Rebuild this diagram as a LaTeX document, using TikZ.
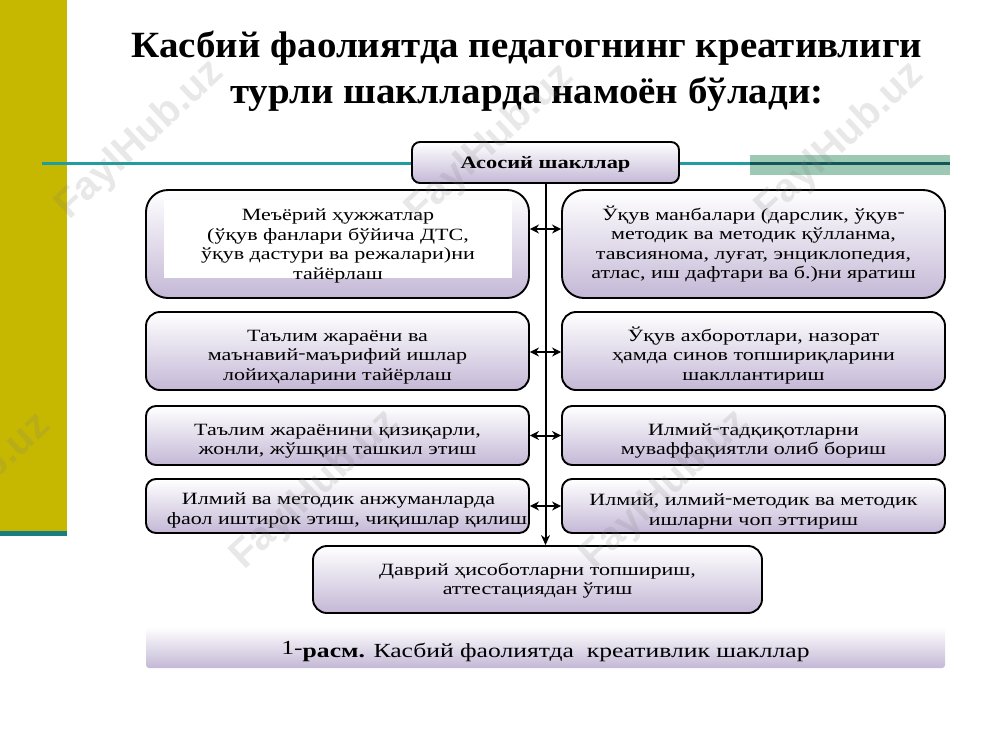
\documentclass[tikz,border=0pt]{standalone}
\usepackage{fontspec}
\setmainfont[FakeStretch=1.28]{Liberation Serif}
\newfontfamily\titlefont[FakeStretch=1.053]{Liberation Serif}
\newfontfamily\markfont{Liberation Sans}
\usetikzlibrary{arrows.meta}
\definecolor{lav}{HTML}{C4B8D6}
\definecolor{lavmid}{HTML}{F1EDF4}
\definecolor{olive}{HTML}{C6B800}
\definecolor{teal1}{HTML}{1F9EA0}
\definecolor{band}{HTML}{9CC8B4}
\tikzset{
  x=1pt,y=-1pt,
  panel/.style={draw=black,line width=1.9pt,top color=white,middle color=lavmid,bottom color=lav,inner sep=0pt,align=center},
  body/.style={font=\fontsize{17.2}{19.6}\selectfont,align=center,inner sep=0pt},
  link/.style={draw=black,line width=2pt},
  dbl/.style={link,{Stealth[length=9pt,width=9pt]}-{Stealth[length=9pt,width=9pt]}},
  wmark/.style={font=\markfont\bfseries\fontsize{40}{40}\selectfont,text=gray,text opacity=.18,rotate=43,inner sep=0pt},
  titletext/.style={font=\titlefont\bfseries\fontsize{37}{46}\selectfont,align=center,inner sep=0pt},
}
\newcommand{\rh}{\raisebox{.28ex}{-}}
\newcommand{\dn}{\rule{0pt}{23pt}}
\begin{document}
\begin{tikzpicture}
\useasboundingbox (0,0) rectangle (1000,750);
\fill[white] (0,0) rectangle (1000,750);
\fill[olive] (0,0) rectangle (67,531);
\fill[teal1!80!black] (0,531) rectangle (67,536);
\fill[band] (750,155) rectangle (950,175);
\draw[teal1,line width=3pt] (42,163) -- (950,163);
\draw[black!45!teal1,line width=3pt] (750,163) -- (950,163);
\node[titletext] (title) at (527,71) {Касбий фаолиятда педагогнинг креативлиги\\турли шаклларда намоён бўлади:};
\node[panel,rounded corners=8pt,minimum width=267pt,minimum height=41pt,font=\bfseries\fontsize{17.5}{19}\selectfont] (top) at (545.5,162.5) {\rule{0pt}{16pt}Асосий шакллар};
\node[panel,rounded corners=22pt,minimum width=383pt,minimum height=108pt] (L1) at (337.5,244) {};
\node[fill=white,minimum width=348pt,minimum height=78pt,inner sep=0pt] (L1w) at (338,239) {};
\node[body] (L1t) at (338,246) {Меъёрий ҳужжатлар\\(ўқув фанлари бўйича ДТС,\\ўқув дастури ва режалари)ни\\тайёрлаш};
\node[panel,body,rounded corners=22pt,minimum width=383pt,minimum height=108pt] (R1) at (753.5,244) {Ўқув манбалари (дарслик, ўқув\rh\\методик ва методик қўлланма,\\тавсиянома, луғат, энциклопедия,\\атлас, иш дафтари ва б.)ни яратиш};
\node[panel,body,rounded corners=14pt,minimum width=383pt,minimum height=78pt] (L2) at (337.5,351) {\dn Таълим жараёни ва\\маънавий\rh маърифий ишлар\\лойиҳаларини тайёрлаш};
\node[panel,body,rounded corners=14pt,minimum width=383pt,minimum height=78pt] (R2) at (753.5,351) {\dn Ўқув ахборотлари, назорат\\ҳамда синов топшириқларини\\шакллантириш};
\node[panel,body,rounded corners=10pt,minimum width=383pt,minimum height=59pt] (L3) at (337.5,435.5) {\dn Таълим жараёнини қизиқарли,\\жонли, жўшқин ташкил этиш};
\node[panel,body,rounded corners=10pt,minimum width=383pt,minimum height=59pt] (R3) at (753.5,435.5) {\dn Илмий\rh тадқиқотларни\\муваффақиятли олиб бориш};
\node[panel,rounded corners=10pt,minimum width=383pt,minimum height=54pt] (L4) at (337.5,506) {};
\node[body] (L4a) at (338.5,500) {Илмий ва методик анжуманларда};
\node[body] (L4b) at (347,520) {фаол иштирок этиш, чиқишлар қилиш};
\node[panel,body,rounded corners=10pt,minimum width=383pt,minimum height=54pt] (R4) at (753.5,506) {\dn Илмий, илмий\rh методик ва методик\\ишларни чоп эттириш};
\node[panel,body,rounded corners=14pt,minimum width=449pt,minimum height=67pt] (B) at (537.5,579.5) {\rule{0pt}{15pt}Даврий ҳисоботларни топшириш,\\аттестациядан ўтиш};
\node[top color=white,bottom color=lav,rounded corners=3pt,minimum width=799pt,minimum height=41pt,inner sep=0pt,font=\fontsize{20}{22}\selectfont] (cap) at (545.5,647.5) {\rule{0pt}{24pt}\raisebox{.35ex}{1-}\textbf{расм.} Касбий фаолиятда\ \ креативлик шакллар};
\draw[link,-{Stealth[length=10pt,width=9pt]}] (top.south) -- (top.south |- B.north);
\draw[dbl] ([yshift=15pt]L1.east) -- ([yshift=15pt]R1.west);
\draw[dbl] ([yshift=-1pt]L2.east) -- ([yshift=-1pt]R2.west);
\draw[dbl] (L3.east) -- (R3.west);
\draw[dbl] (L4.east) -- (R4.west);
\node[wmark] (w1) at (140,140) {FaylHub.uz};
\node[wmark] (w2) at (490,144) {FaylHub.uz};
\node[wmark] (w3) at (840,142) {FaylHub.uz};
\node[wmark] (w4) at (315,490) {FaylHub.uz};
\node[wmark] (w5) at (665,490) {FaylHub.uz};
\node[wmark] (w6) at (-33,493) {FaylHub.uz};
\end{tikzpicture}
\end{document}
